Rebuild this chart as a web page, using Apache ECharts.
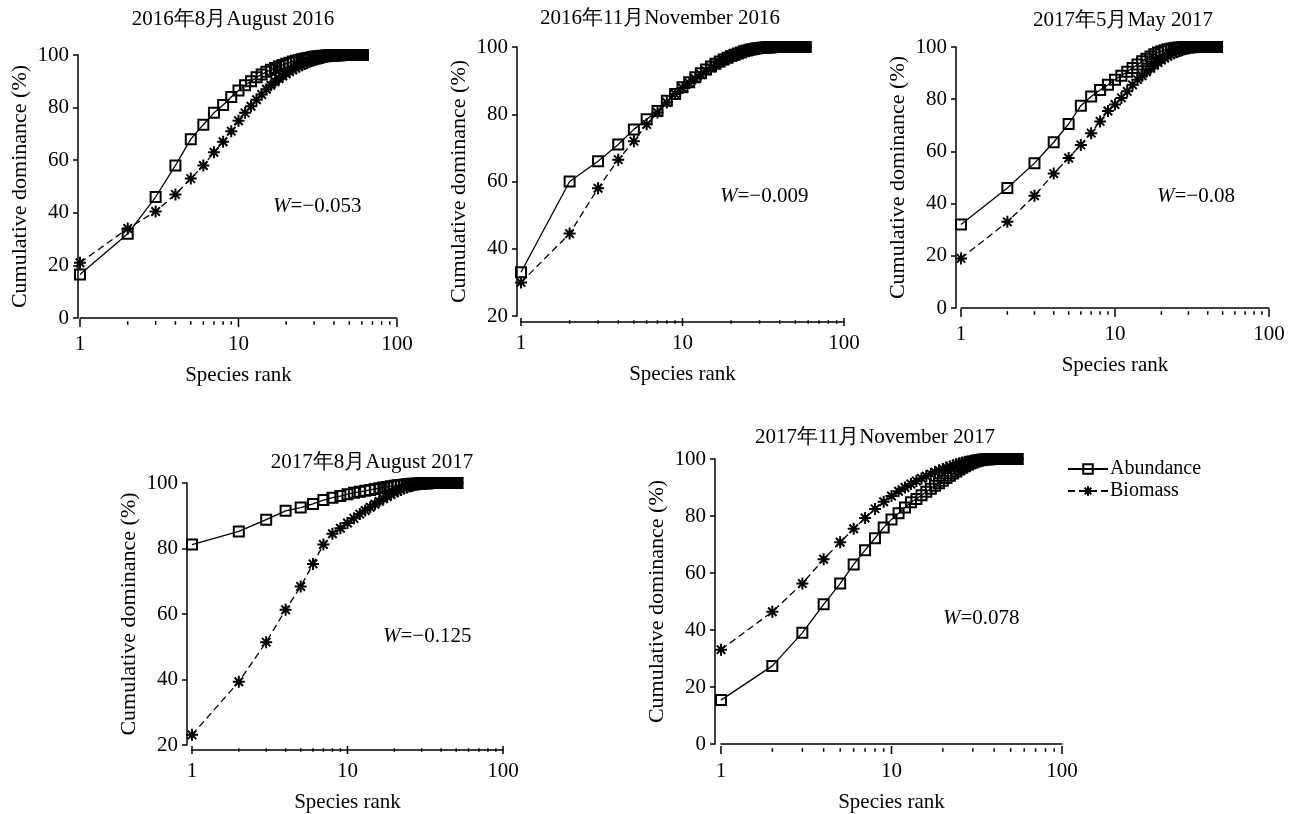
<!DOCTYPE html>
<html><head><meta charset="utf-8">
<script src="https://cdn.jsdelivr.net/npm/echarts@6/dist/echarts.min.js"></script>
<style>html,body{margin:0;padding:0;background:#fff}#c{width:1302px;height:814px}</style>
</head><body><div id="c"></div>
<script>
// ---------- data ----------
const panelTitles = ['2016年8月August 2016','2016年11月November 2016','2017年5月May 2017','2017年8月August 2017','2017年11月November 2017'];
const wValues = ['−0.053','−0.009','−0.08','−0.125','0.078'];
const yMins = [0,20,0,20,0];
const yMax = 100;
const yInterval = 20;
const xTickMajor = [1,10,100];
const xTickMinor = [2,3,4,5,6,7,8,9,20,30,40,50,60,70,80,90];

const abund1 = [16.5,32,46,58,68,73.5,78,81,84,86.5,
 88.5,90,91.5,92.6,93.6,94.4,95.1,95.7,96.2,96.7,
 97.1,97.5,97.8,98.1,98.4,98.6,98.8,99.0,99.15,99.3,
 99.4,99.5,99.6,99.67,99.73,99.78,99.82,99.86,99.89,99.91,
 99.93,99.94,99.95,99.96,99.97,99.97,99.98,99.98,99.98,99.99,
 99.99,99.99,99.99,99.99,100,100,100,100,100,100,
 100];
const biom1 = [21,34,40.5,47,53,58,63,67,71,75,
 78,80.5,83,85,87,88.5,89.8,91,92,92.9,
 93.7,94.4,95,95.6,96.1,96.6,97,97.4,97.7,98,
 98.3,98.5,98.7,98.9,99.1,99.25,99.4,99.5,99.6,99.68,
 99.75,99.8,99.85,99.88,99.91,99.93,99.95,99.96,99.97,99.98,
 99.98,99.99,99.99,99.99,100,100,100,100,100,100,
 100];
const abund2 = [33,60,66,71,75.5,78.5,81,84,86,88,
 89.5,91,92.2,93.3,94.2,95,95.7,96.3,96.8,97.3,
 97.7,98.1,98.4,98.7,98.95,99.15,99.35,99.5,99.6,99.7,
 99.78,99.84,99.88,99.92,99.94,99.96,99.97,99.98,99.99,99.99,
 100,100,100,100,100,100,100,100,100,100,
 100,100,100,100,100,100,100,100];
const biom2 = [30,44.5,58,66.5,72,77,80.5,83.5,86,87.8,
 89.3,90.6,91.8,92.9,93.8,94.6,95.3,95.9,96.5,97,
 97.4,97.8,98.2,98.5,98.8,99,99.2,99.4,99.5,99.6,
 99.7,99.78,99.84,99.88,99.92,99.94,99.96,99.97,99.98,99.99,
 100,100,100,100,100,100,100,100,100,100,
 100,100,100,100,100,100,100,100];
const abund3 = [32,46,55.5,63.5,70.5,77.5,81,83.5,85.5,87.5,
 89,90.5,92,93.3,94.5,95.5,96.4,97.2,97.9,98.4,
 98.8,99.1,99.35,99.55,99.7,99.8,99.87,99.92,99.96,99.98,
 100,100,100,100,100,100,100,100,100,100,
 100,100,100,100,100,100];
const biom3 = [19,33,43,51.5,57.5,62.5,67,71.5,75.5,78,
 80.5,83,85.5,87.5,89,90.5,91.8,93,94,95,
 95.8,96.5,97.1,97.6,98,98.4,98.7,99,99.25,99.45,
 99.6,99.72,99.82,99.88,99.93,99.96,99.98,99.99,100,100,
 100,100,100,100,100,100];
const abund4 = [81.2,85.2,88.8,91.5,92.5,93.6,94.8,95.5,96,96.6,
 97,97.3,97.6,97.9,98.2,98.4,98.6,98.8,99,99.15,
 99.3,99.4,99.5,99.6,99.68,99.75,99.8,99.85,99.88,99.91,
 99.93,99.95,99.96,99.97,99.98,99.99,99.99,100,100,100,
 100,100,100,100,100,100,100,100,100,100,
 100];
const biom4 = [23.1,39.3,51.4,61.3,68.4,75.3,81.2,84.5,86.2,87.8,
 89.2,90.5,91.6,92.6,93.5,94.4,95.2,95.9,96.5,97,
 97.5,97.9,98.3,98.6,98.9,99.1,99.3,99.45,99.58,99.68,
 99.76,99.83,99.88,99.92,99.95,99.97,99.98,99.99,100,100,
 100,100,100,100,100,100,100,100,100,100,
 100];
const abund5 = [15.4,27.4,39,49,56.3,63,68,72.2,76,78.8,
 81,83,84.8,86,87.3,88.5,89.6,90.6,91.5,92.4,
 93.3,94.1,94.9,95.6,96.3,96.9,97.5,98,98.4,98.8,
 99.1,99.35,99.55,99.7,99.8,99.87,99.92,99.95,99.97,99.98,
 99.99,100,100,100,100,100,100,100,100,100,
 100,100,100,100,100];
const biom5 = [33.1,46.4,56.3,64.8,70.8,75.5,79.3,82.5,85,87,
 88.7,90,91.2,92.3,93.2,94,94.7,95.4,96,96.5,
 97,97.4,97.8,98.2,98.5,98.8,99,99.2,99.4,99.55,
 99.67,99.77,99.85,99.9,99.94,99.96,99.98,99.99,100,100,
 100,100,100,100,100,100,100,100,100,100,
 100,100,100,100,100];
const abundSets = [abund1,abund2,abund3,abund4,abund5];
const biomSets = [biom1,biom2,biom3,biom4,biom5];

// ---------- layout ----------
const FONT = '"Liberation Serif","Times New Roman",serif';
const grids = [
  {left:80, top:55, width:317, height:263, yOff:2, xOff:5},
  {left:521, top:47, width:323, height:269, yOff:4, xOff:6},
  {left:961, top:47, width:308, height:261, yOff:5, xOff:5},
  {left:192, top:483, width:311, height:264, yOff:5, xOff:5},
  {left:721, top:459, width:341, height:287, yOff:6, xOff:6}
];
const titlePos = [[233,19],[660,18],[1123,20],[372,462],[875,437]];
const wPos = [[273,206],[720,196],[1157,196],[383,636],[943,618]];

const STAR = 'path://M12,0L12,24M0,12L24,12M3.5,3.5L20.5,20.5M3.5,20.5L20.5,3.5';

const option = {
  animation:false,
  backgroundColor:'#fff',
  textStyle:{fontFamily:FONT},
  grid: grids.map(g=>({left:g.left, top:g.top, width:g.width, height:g.height, containLabel:false})),
  xAxis: grids.map((g,i)=>({
    type:'log', logBase:10, gridIndex:i, min:1, max:100, offset:g.xOff,
    axisLine:{show:true, lineStyle:{color:'#000', width:1.5}},
    axisTick:{show:false}, splitLine:{show:false}, minorTick:{show:false},
    axisLabel:{color:'#000', fontSize:21, fontFamily:FONT, margin:11},
    name:'Species rank', nameLocation:'middle', nameGap:42,
    nameTextStyle:{color:'#000', fontSize:21, fontFamily:FONT}
  })),
  yAxis: grids.map((g,i)=>({
    type:'value', gridIndex:i, min:yMins[i], max:yMax, interval:yInterval, offset:g.yOff,
    axisLine:{show:true, lineStyle:{color:'#000', width:1.5}},
    axisTick:{show:true, length:5, lineStyle:{color:'#000', width:1.5}},
    splitLine:{show:false},
    axisLabel:{color:'#000', fontSize:21, fontFamily:FONT, margin:9},
    name:'Cumulative dominance (%)', nameLocation:'middle', nameGap:47, nameRotate:90,
    nameTextStyle:{color:'#000', fontSize:22, fontFamily:FONT}
  })),
  legend:{
    orient:'vertical', left:1062, top:454, itemWidth:40, itemHeight:12, itemGap:2,
    data:['Abundance','Biomass'],
    textStyle:{color:'#000', fontSize:20, fontFamily:FONT, padding:[0,0,0,-3]}
  },
  graphic: [],
  series: []
};

grids.forEach((g,i)=>{
  option.series.push({
    name:'Abundance', type:'line', xAxisIndex:i, yAxisIndex:i,
    data: abundSets[i].map((v,k)=>[k+1,v]),
    symbol:'rect', symbolSize:10, showSymbol:true,
    lineStyle:{color:'#000', width:1.3, type:'solid'},
    itemStyle:{color:'rgba(255,255,255,0)', borderColor:'#000', borderWidth:2},
    z:3
  });
  option.series.push({
    name:'Biomass', type:'line', xAxisIndex:i, yAxisIndex:i,
    data: biomSets[i].map((v,k)=>[k+1,v]),
    symbol:STAR, symbolSize:12, showSymbol:true,
    lineStyle:{color:'#000', width:1.3, type:[7,4]},
    itemStyle:{color:'#000', borderColor:'#000', borderWidth:2},
    z:2
  });
  const ticks = xTickMajor.concat(xTickMinor).map(v=>[v, yMins[i]]);
  option.series.push({
    type:'custom', xAxisIndex:i, yAxisIndex:i, silent:true, clip:false, z:5,
    data: ticks,
    renderItem:(params, api)=>{
      const x = api.value(0);
      const p = api.coord([x, api.value(1)]);
      const y = p[1] + g.xOff;
      const major = xTickMajor.indexOf(x) >= 0;
      const h = major ? 4 : 1.8;
      return {type:'line', shape:{x1:p[0], y1:y-h, x2:p[0], y2:y+h},
        style:{stroke:'#000', lineWidth:1.5}};
    }
  });
  option.graphic.push({
    type:'text', x:titlePos[i][0], y:titlePos[i][1],
    style:{text:panelTitles[i], fill:'#000', font:'21px '+FONT, textAlign:'center', textVerticalAlign:'middle'}
  });
  option.graphic.push({
    type:'text', x:wPos[i][0], y:wPos[i][1],
    style:{text:'{i|W}=' + wValues[i], fill:'#000', font:'21px '+FONT, textVerticalAlign:'middle',
      rich:{i:{fontStyle:'italic', fontSize:21, fontFamily:FONT, fill:'#000'}}}
  });
});

const chart = echarts.init(document.getElementById('c'), null, {renderer:'canvas'});
chart.setOption(option);
</script>
</body></html>
